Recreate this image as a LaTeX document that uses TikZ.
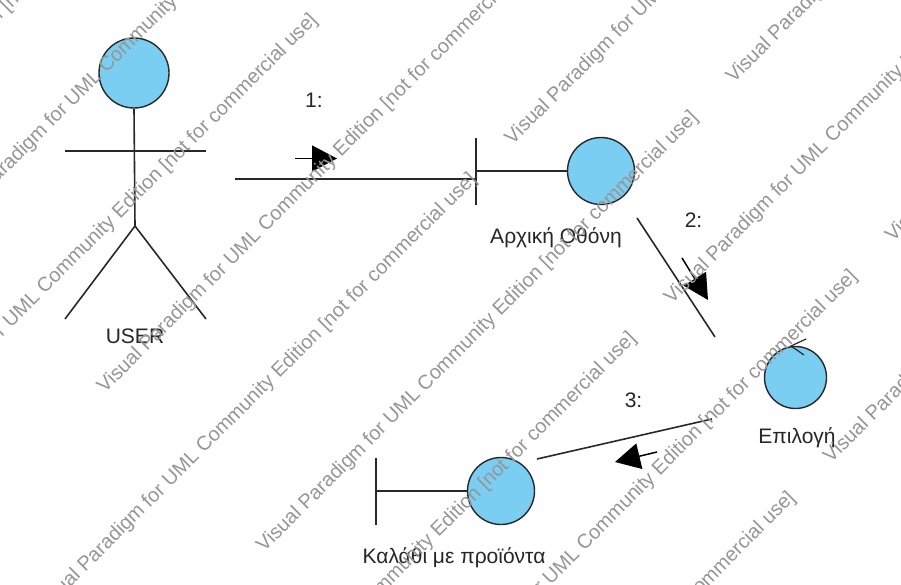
\documentclass[tikz,border=0pt]{standalone}
\usepackage{fontspec}
\setmainfont{Liberation Sans}
\usetikzlibrary{arrows.meta}
\definecolor{fillblue}{RGB}{122,206,242}
\definecolor{ink}{RGB}{40,40,40}
\definecolor{wm}{RGB}{150,150,150}
\begin{document}
\begin{tikzpicture}[x=1pt,y=-1pt,
  obj/.style={circle, draw=ink, fill=fillblue, line width=1.4pt, minimum size=67pt, inner sep=0pt},
  lbl/.style={font=\fontsize{21}{25}\selectfont, text=black!85, anchor=base, inner sep=0pt},
  wmark/.style={font=\fontsize{20}{24}\selectfont, text=wm, rotate=45, anchor=base west, inner sep=0pt},
  link/.style={draw=ink, line width=1.6pt},
  msg/.style={draw=black, line width=1.5pt, -{Triangle[length=25pt,width=26pt]}}]
\useasboundingbox[fill=white] (0,0) rectangle (901,584);

% actor
\node[obj, minimum size=70pt] (head) at (134,73) {};
\coordinate (hip) at (135,226);
\coordinate (armL) at (65,151);
\coordinate (armR) at (206,151);
\coordinate (legL) at (65,319);
\coordinate (legR) at (206,319);
\draw[link] (head.south) -- (hip);
\draw[link] (armL) -- (armR);
\draw[link] (legL) -- (hip) -- (legR);
\node[lbl] (user) at (135,343) {USER};

% boundary 1
\node[obj] (b1) at (601,171) {};
\coordinate (b1top) at (476,138);
\coordinate (b1bot) at (476,205);
\draw[link] (b1top) -- (b1bot);
\draw[link] (b1.west) -- (b1.west -| b1top);
\node[lbl] (b1lbl) at (556,243) {Αρχική Οθόνη};

% connector 1
\coordinate (c1s) at (235,179);
\coordinate (c1e) at (476,179);
\draw[link] (c1s) -- (c1e);
\coordinate (a1s) at (295,158.5);
\coordinate (a1e) at (337,158.5);
\draw[msg] (a1s) -- (a1e);
\node[lbl] (m1) at (314,107) {1:};

% control
\node[obj, minimum size=62pt] (ctl) at (795.5,377.5) {};
\coordinate (ctla) at (806,339);
\coordinate (ctlb) at (791,346);
\coordinate (ctlc) at (804,355);
\draw[link, line width=1.2pt] (ctla) -- (ctlb) -- (ctlc);
\node[lbl] (ctllbl) at (797,443) {Επιλογή};

% connector 2
\coordinate (c2s) at (637,218);
\coordinate (c2e) at (715,337);
\draw[link] (c2s) -- (c2e);
\coordinate (a2s) at (682,258);
\coordinate (a2e) at (708,300);
\draw[msg] (a2s) -- (a2e);
\node[lbl] (m2) at (693.5,227) {2:};

% connector 3
\coordinate (c3s) at (712,419);
\coordinate (c3e) at (537,459);
\draw[link] (c3s) -- (c3e);
\coordinate (a3s) at (657,452);
\coordinate (a3e) at (615,462);
\draw[msg] (a3s) -- (a3e);
\node[lbl] (m3) at (633.5,407) {3:};

% boundary 2
\node[obj] (b2) at (501,491) {};
\coordinate (b2top) at (376,458);
\coordinate (b2bot) at (376,525);
\draw[link] (b2top) -- (b2bot);
\draw[link] (b2.west) -- (b2.west -| b2top);
\node[lbl] (b2lbl) at (454,563) {Καλάθι με προϊόντα};

% watermark
\begin{scope}
\clip (0,0) rectangle (901,584);
\foreach \k/\dd [count=\i] in {-1/-572,1/-572,3/-572,3/367,5/-572,5/367,7/-572,7/367,0/-289,2/-289,4/-289,4/650,6/-289,6/650} {
    \pgfmathsetmacro\cc{180+159.3*\k}
    \pgfmathsetmacro\xx{(\cc+\dd)/2}
    \pgfmathsetmacro\yy{(\cc-\dd)/2}
    \node[wmark] (wm\i) at (\xx,\yy) {Visual Paradigm for UML Community Edition [not for commercial use]};
}
\end{scope}
\end{tikzpicture}
\end{document}
